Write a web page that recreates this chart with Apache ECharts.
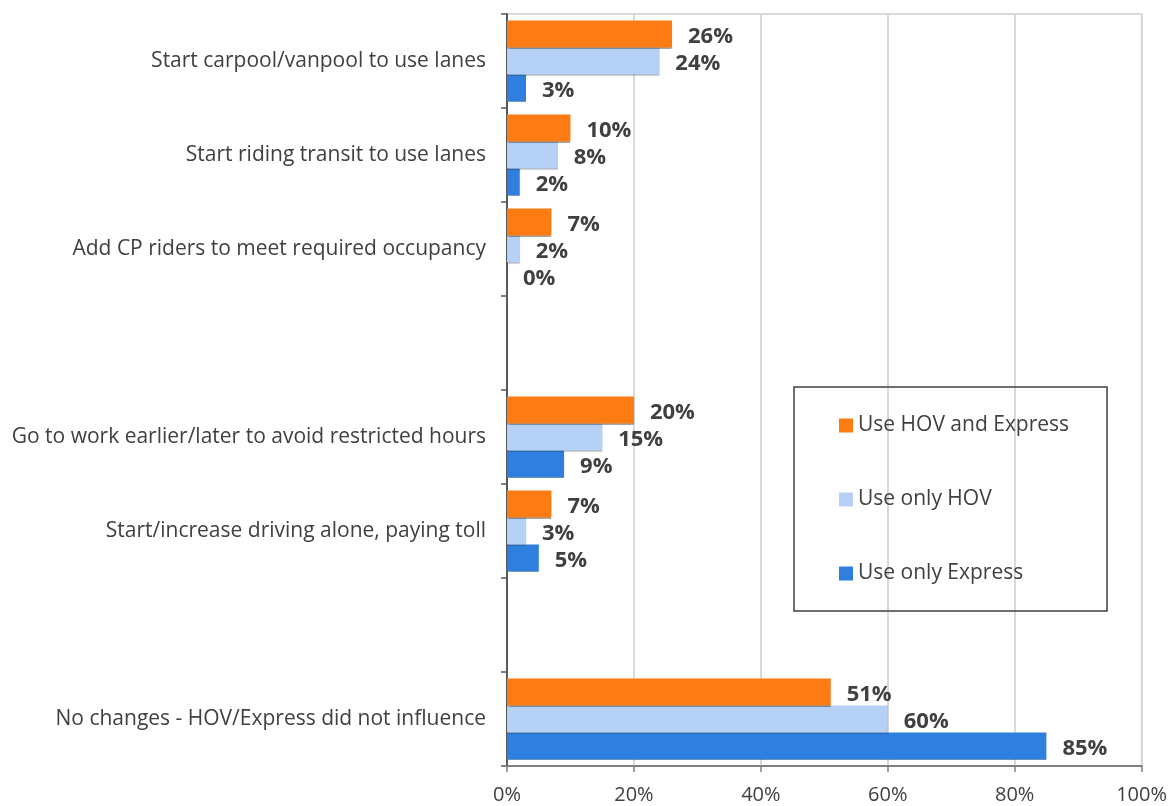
<!DOCTYPE html>
<html>
<head>
<meta charset="utf-8">
<script src="https://cdn.jsdelivr.net/npm/echarts@6/dist/echarts.min.js"></script>
<style>
  html, body { margin: 0; padding: 0; background: #fff; }
  #chart { width: 1170px; height: 806px; }
</style>
</head>
<body>
<div id="chart"></div>
<script>
// Behaviour changes reported by respondents; empty strings leave a blank row between groups.
const categories = [
  'Start carpool/vanpool to use lanes',
  'Start riding transit to use lanes',
  'Add CP riders to meet required occupancy',
  '',
  'Go to work earlier/later to avoid restricted hours',
  'Start/increase driving alone, paying toll',
  '',
  'No changes - HOV/Express did not influence'
];

const seriesNames = ['Use HOV and Express', 'Use only HOV', 'Use only Express'];

// Percent of respondents in each group (null = blank row)
const hovAndExpress = [26, 10, 7, null, 20, 7, null, 51];
const onlyHov       = [24, 8, 2, null, 15, 3, null, 60];
const onlyExpress   = [3, 2, 0, null, 9, 5, null, 85];

const xTicks = [0, 20, 40, 60, 80, 100];

const FONT = '"Open Sans", Lato, sans-serif';
const TEXT = '#404040';
const colors = ['#FC7B12', '#B5D2F6', '#2F80DE'];

const chart = echarts.init(document.getElementById('chart'), null, { renderer: 'canvas' });

function barSeries(name, data, color, z) {
  return {
    name: name,
    type: 'bar',
    data: data,
    z: z,
    barGap: '0%',
    barCategoryGap: '14%',
    itemStyle: {
      color: color,
      shadowColor: 'rgba(0,0,0,0.35)',
      shadowBlur: 1,
      shadowOffsetY: 1
    },
    label: {
      show: true,
      position: 'right',
      distance: 16,
      formatter: p => p.value == null ? '' : p.value + '%',
      fontFamily: FONT,
      fontWeight: 'bold',
      fontSize: 22,
      color: TEXT,
      offset: [0, 3]
    }
  };
}

chart.setOption({
  animation: false,
  textStyle: { fontFamily: FONT },
  grid: {
    left: 507, right: 27, top: 14, bottom: 40,
    show: true, borderColor: '#D9D9D9', borderWidth: 2
  },
  legend: {
    orient: 'vertical',
    left: 834, top: 410,
    itemWidth: 14, itemHeight: 14, itemGap: 53,
    icon: 'rect',
    textStyle: { fontFamily: FONT, fontSize: 21, color: TEXT },
    data: seriesNames
  },
  graphic: [{
    type: 'rect',
    shape: { x: 794, y: 387, width: 313, height: 224 },
    style: { fill: 'none', stroke: '#404040', lineWidth: 1.5 },
    z: 100
  }],
  xAxis: {
    type: 'value',
    min: xTicks[0], max: xTicks[xTicks.length - 1], interval: 20,
    axisLine: { show: true, lineStyle: { color: '#7F7F7F', width: 2 } },
    axisTick: { show: true, length: 6, lineStyle: { color: '#7F7F7F', width: 1.5 } },
    axisLabel: { formatter: v => v + '%', fontFamily: FONT, fontSize: 20, color: TEXT, margin: 19 },
    splitLine: { show: true, lineStyle: { color: '#D9D9D9', width: 2 } }
  },
  yAxis: {
    type: 'category',
    inverse: true,
    data: categories,
    axisLine: { show: true, lineStyle: { color: '#595959', width: 2 } },
    axisTick: { show: true, length: 6, inside: false, alignWithLabel: false, lineStyle: { color: '#595959', width: 1.5 } },
    axisLabel: { fontFamily: FONT, fontSize: 21, color: TEXT, margin: 21 },
    splitLine: { show: false }
  },
  series: [
    barSeries(seriesNames[0], hovAndExpress, colors[0], 4),
    barSeries(seriesNames[1], onlyHov, colors[1], 3),
    barSeries(seriesNames[2], onlyExpress, colors[2], 2)
  ]
});
</script>
</body>
</html>
